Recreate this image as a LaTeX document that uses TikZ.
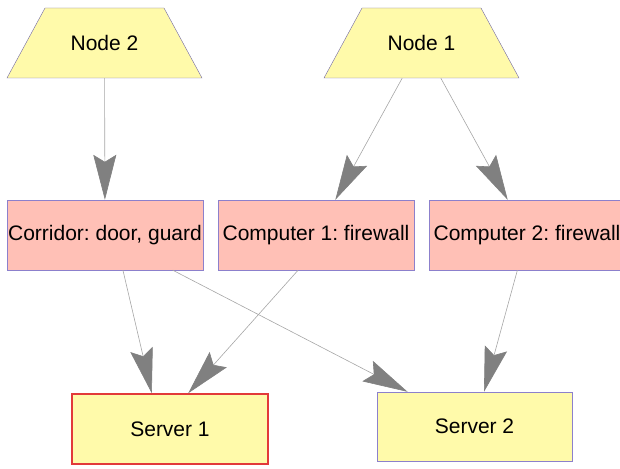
\documentclass[tikz,border=0pt]{standalone}
\usepackage{fontspec}
\setmainfont{Liberation Sans}
\usetikzlibrary{shapes.geometric,arrows.meta}
\definecolor{boxyellow}{HTML}{FFFAAA}
\definecolor{boxpink}{HTML}{FFC0B6}
\definecolor{edgeline}{HTML}{8C80CC}
\definecolor{serverred}{HTML}{E23A3A}
\definecolor{arrowgray}{HTML}{808080}
\frenchspacing

\begin{document}
\begin{tikzpicture}[x=1pt,y=-1pt,
    font=\fontsize{21}{24}\selectfont,
    top/.style={trapezium, trapezium left angle=61.5, trapezium right angle=61.5,
        trapezium stretches body, minimum width=195pt,
        text height=15pt, text depth=0pt, inner ysep=27.5pt, inner xsep=0pt,
        fill=boxyellow, draw=edgeline!80!black},
    guard/.style={rectangle, minimum width=196pt, minimum height=70pt,
        fill=boxpink, draw=edgeline, inner sep=0pt},
    server/.style={rectangle, minimum width=196pt, minimum height=70pt,
        fill=boxyellow, draw=edgeline, inner sep=0pt},
    link/.style={draw=arrowgray!70, line width=0.6pt,
        -{Stealth[length=45pt, width=23pt, inset=7pt, color=arrowgray, fill=arrowgray]}}]
    \clip (0,0) rectangle (620,468);
    \useasboundingbox (0,0) rectangle (620,468);
    % top row
    \node[top] (n2) at (104.5,43) {Node 2};
    \node[top] (n1) at (421.5,43) {Node 1};
    % middle row
    \node[guard] (cor) at (105,235) {Corridor: door, guard};
    \node[guard] (c1) at (316,235) {Computer 1: firewall};
    \node[guard] (c2) at (527,235) {Computer 2: firewall};
    % servers
    \node[server, draw=serverred, line width=1.5pt] (s1) at (170,429) {Server 1};
    \node[server, minimum width=195pt, minimum height=69pt] (s2) at (474.5,426.5) {Server 2};
    % edges
    \draw[link] (n2) -- (cor);
    \draw[link] (n1) -- (c1);
    \draw[link] (n1) -- (c2);
    \draw[link] (cor.-63) -- (s1.117);
    \draw[link] (c1.-117) -- (s1.63);
    \draw[link] (cor) -- (s2);
    \draw[link] (c2) -- (s2);
\end{tikzpicture}
\end{document}
